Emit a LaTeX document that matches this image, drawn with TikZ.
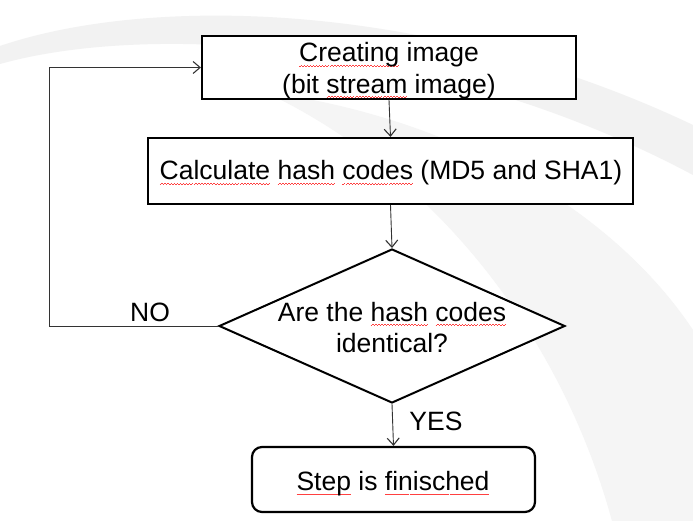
\documentclass[tikz,border=0pt]{standalone}
\usepackage{fontspec}
\setmainfont{Liberation Sans}
\usetikzlibrary{shapes.geometric,arrows.meta}
\newcommand\waveunit{\hbox{\textcolor{red!75}{\rule[0pt]{1.5pt}{0.6pt}\rule[0.9pt]{1.5pt}{0.6pt}}}}
\newcommand\redwave[1]{\leavevmode\setbox0\hbox{#1}\rlap{\raisebox{-4.5pt}[0pt][0pt]{\hbox to\wd0{\xleaders\waveunit\hfil}}}\box0\relax}
\tikzset{
  boxstyle/.style={draw=black, line width=2.2pt, fill=white, inner sep=0pt},
  conn/.style={draw=black!80, line width=0.9pt, -{Straight Barb[length=7pt,width=12pt,line width=1.1pt]}},
  txt/.style={inner sep=0pt, anchor=base},
}
\begin{document}
\begin{tikzpicture}[x=1pt,y=-1pt, font=\fontsize{26.5}{33}\selectfont]
\useasboundingbox (0,0) rectangle (693,521);
\fill[white] (0,0) rectangle (693,521);
% background swooshes
\fill[black!5] (0,46) .. controls (150,-5) and (430,0) .. (693,125) -- (693,175) .. controls (440,40) and (150,22) .. (0,64) -- cycle;
\fill[black!4] (265,92) .. controls (430,170) and (560,330) .. (612,521) -- (693,521) -- (693,330) .. controls (620,220) and (470,120) .. (265,92) -- cycle;
% shapes
\node[boxstyle, minimum width=374pt, minimum height=63pt] (create) at (389,67.5) {};
\node[boxstyle, minimum width=485pt, minimum height=66pt] (calc) at (390.5,171) {};
\node[draw=black, line width=2pt, fill=white, shape=diamond, aspect=2.25, minimum width=346pt, minimum height=154pt, inner sep=0pt] (dec) at (392,326) {};
\node[boxstyle, rounded corners=10pt, minimum width=283pt, minimum height=65pt] (done) at (393.5,479.5) {};
% texts
\node[txt] (create1) at (389,62) {\redwave{Creating} image};
\node[txt] (create2) at (389,93.5) {(bit \redwave{stream} image)};
\node[txt] (calctext) at (391,180) {\redwave{Calculate} \redwave{hash} \redwave{codes} (MD5 and SHA1)};
\node[txt] (dec1) at (392,321) {Are the \redwave{hash} \redwave{codes}};
\node[txt] (dec2) at (392,352) {identical?};
\node[txt] (donetext) at (393,490.5) {\redwave{Step} is \redwave{finisched}};
\coordinate (loop) at (49,326);
% connectors
\draw[conn] (create.south) -- (calc.north);
\draw[conn] (calc.south) -- (dec.north);
\draw[conn] (dec.south) -- (done.north);
\draw[conn] (dec.west) -- (loop) |- (create.west);
% labels
\node[txt] (no) at (150,321.5) {NO};
\node[txt] (yes) at (436,430.5) {YES};
\end{tikzpicture}
\end{document}
